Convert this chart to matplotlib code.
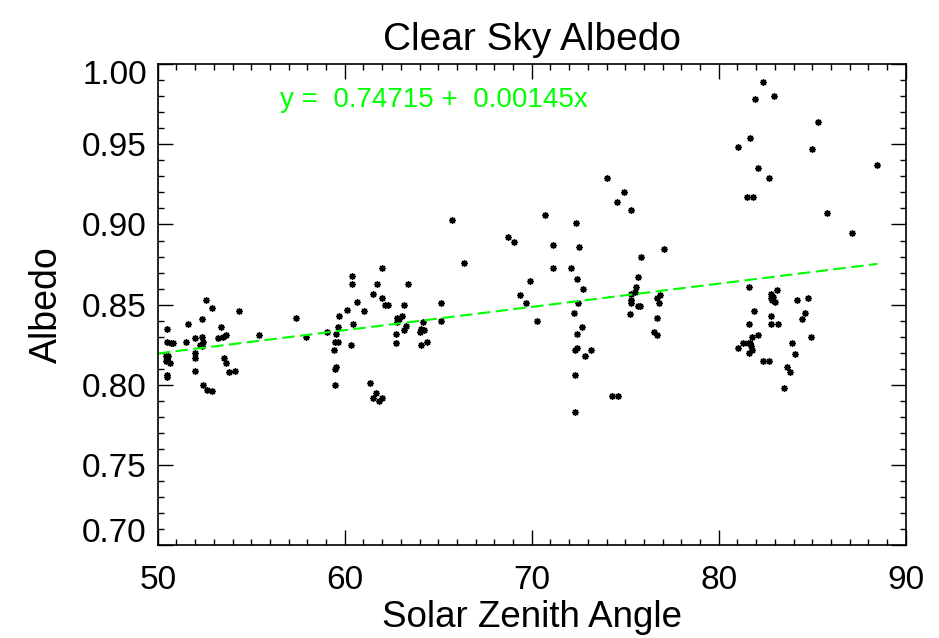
import numpy as np
import matplotlib
matplotlib.use("Agg")
import matplotlib.pyplot as plt
from matplotlib.ticker import MultipleLocator, FormatStrFormatter
from matplotlib.transforms import ScaledTranslation

plt.rcParams['font.family'] = ['Liberation Sans', 'DejaVu Sans']

# solar zenith angle (deg) and clear-sky albedo
sza = np.array([
    50.50, 51.64, 52.39, 52.57, 52.90, 54.33, 53.37, 51.53, 52.01, 52.35,
    52.44, 52.26, 52.35, 53.24, 53.51, 53.65, 50.50, 50.69, 50.80, 50.57,
    50.44, 50.43, 50.67, 50.51, 50.48, 50.50, 51.99, 51.98, 51.98, 53.53,
    53.67, 53.83, 54.15, 52.42, 52.62, 52.92, 55.42, 57.41, 57.91,
    59.04, 59.63, 60.44, 59.55, 59.50, 59.66, 59.44, 60.32, 59.53, 59.48,
    59.50, 61.35, 61.69, 61.51, 61.83, 61.99, 59.70, 60.12, 60.68, 61.02,
    60.37, 60.37, 61.71, 61.98, 61.50, 62.01, 62.17, 62.33, 63.16, 63.40,
    65.13, 62.78, 63.05, 62.92, 62.78, 63.26, 63.17, 64.20, 64.06, 64.24,
    64.03, 65.15, 62.74, 62.73, 64.08, 64.40, 65.72, 66.40,
    68.72, 69.05, 69.39, 69.70, 69.91, 70.28, 70.70, 71.14, 71.16, 72.10,
    72.35, 72.51, 72.42, 72.76, 72.48, 72.28, 72.69, 72.44, 72.30, 72.41,
    73.16, 72.87, 72.33, 72.32, 74.31, 74.63, 74.01, 74.95, 74.56, 75.33,
    75.83, 75.67, 75.58, 75.52, 75.29, 75.29, 75.29, 75.67, 75.79, 75.27,
    76.88, 76.72, 76.82, 76.70, 76.56, 76.72, 77.09,
    82.39, 81.94, 82.97, 85.31, 81.67, 81.05, 85.00, 88.48, 82.12, 82.69,
    81.51, 81.83, 85.78, 87.11, 81.60, 83.10, 82.80, 82.92, 82.83, 83.01,
    82.78, 84.19, 84.78, 84.63, 84.47, 81.87, 81.62, 82.80, 82.78, 83.19,
    84.92, 82.12, 81.80, 81.02, 81.32, 81.58, 81.69, 81.74, 81.76, 81.60,
    83.94, 84.06, 82.35, 82.67, 83.67, 83.83, 83.51,
])
albedo = np.array([
    0.835, 0.838, 0.841, 0.853, 0.848, 0.846, 0.836, 0.827, 0.829, 0.830,
    0.827, 0.825, 0.824, 0.829, 0.830, 0.831, 0.827, 0.826, 0.826, 0.818,
    0.818, 0.815, 0.814, 0.816, 0.806, 0.805, 0.820, 0.817, 0.809, 0.817,
    0.814, 0.808, 0.809, 0.800, 0.797, 0.796, 0.831, 0.842, 0.830,
    0.833, 0.836, 0.838, 0.832, 0.827, 0.827, 0.822, 0.825, 0.811, 0.810,
    0.800, 0.801, 0.795, 0.792, 0.790, 0.792, 0.843, 0.847, 0.852, 0.846,
    0.868, 0.863, 0.863, 0.873, 0.857, 0.854, 0.850, 0.850, 0.850, 0.863,
    0.851, 0.842, 0.843, 0.841, 0.839, 0.837, 0.834, 0.839, 0.835, 0.834,
    0.833, 0.840, 0.832, 0.826, 0.825, 0.827, 0.903, 0.876,
    0.892, 0.889, 0.856, 0.851, 0.865, 0.840, 0.906, 0.887, 0.873, 0.873,
    0.901, 0.886, 0.866, 0.860, 0.851, 0.845, 0.836, 0.832, 0.822, 0.823,
    0.822, 0.818, 0.806, 0.783, 0.793, 0.793, 0.929, 0.920, 0.914, 0.909,
    0.880, 0.867, 0.861, 0.858, 0.857, 0.853, 0.851, 0.849, 0.849, 0.844,
    0.856, 0.854, 0.851, 0.842, 0.833, 0.831, 0.885,
    0.989, 0.978, 0.980, 0.964, 0.954, 0.948, 0.947, 0.937, 0.935, 0.929,
    0.917, 0.917, 0.907, 0.895, 0.861, 0.859, 0.857, 0.855, 0.853, 0.852,
    0.854, 0.853, 0.854, 0.845, 0.841, 0.846, 0.838, 0.843, 0.838, 0.838,
    0.830, 0.831, 0.830, 0.823, 0.826, 0.826, 0.826, 0.824, 0.822, 0.820,
    0.826, 0.819, 0.815, 0.815, 0.811, 0.808, 0.798,
])

# linear fit coefficients
intercept = 0.74715
slope = 0.00145

fig = plt.figure(figsize=(9.39, 6.38), dpi=100)
ax = fig.add_axes([0.168, 0.145, 0.7966, 0.7547])

ax.plot(sza, albedo, linestyle='none', marker=(8, 2, 0), markersize=4.8,
        markeredgewidth=1.0, color='black')

xfit = np.array([50.0, sza.max()])
ax.plot(xfit, intercept + slope * xfit, color='#00ff00', linewidth=1.5,
        dashes=(6, 2.6))

ax.text(0.163, 0.925,
        'y =  %.5f +  %.5fx' % (intercept, slope),
        transform=ax.transAxes, color='#00ff00', fontsize=20,
        va='center', ha='left')

ax.set_xlim(50, 90)
ax.set_ylim(0.70, 1.00)
ax.xaxis.set_major_locator(MultipleLocator(10))
ax.xaxis.set_minor_locator(MultipleLocator(1))
ax.yaxis.set_major_locator(MultipleLocator(0.05))
ax.yaxis.set_minor_locator(MultipleLocator(0.01))
ax.yaxis.set_major_formatter(FormatStrFormatter('%.2f'))

ax.tick_params(which='both', direction='in', top=True, right=True,
               width=1.0, color='black')
ax.tick_params(which='major', length=11, labelsize=24)
ax.tick_params(axis='x', which='major', pad=14)
ax.tick_params(axis='y', which='major', pad=8)
ax.tick_params(which='minor', length=4.5)
for s in ax.spines.values():
    s.set_linewidth(1.2)

ax.set_title('Clear Sky Albedo', fontsize=28, pad=10)
ax.set_xlabel('Solar Zenith Angle', fontsize=26.5, labelpad=3)
ax.set_ylabel('Albedo', fontsize=27, labelpad=12)

# keep the end labels of the y axis inside the frame
fig.canvas.draw()
for tick in ax.yaxis.get_major_ticks():
    v = tick.get_loc()
    if abs(v - 0.70) < 1e-6:
        tick.label1.set_transform(tick.label1.get_transform() +
                                  ScaledTranslation(0, 0.15, fig.dpi_scale_trans))
    elif abs(v - 1.00) < 1e-6:
        tick.label1.set_transform(tick.label1.get_transform() +
                                  ScaledTranslation(0, -0.08, fig.dpi_scale_trans))

fig.savefig('out.png', dpi=100)
